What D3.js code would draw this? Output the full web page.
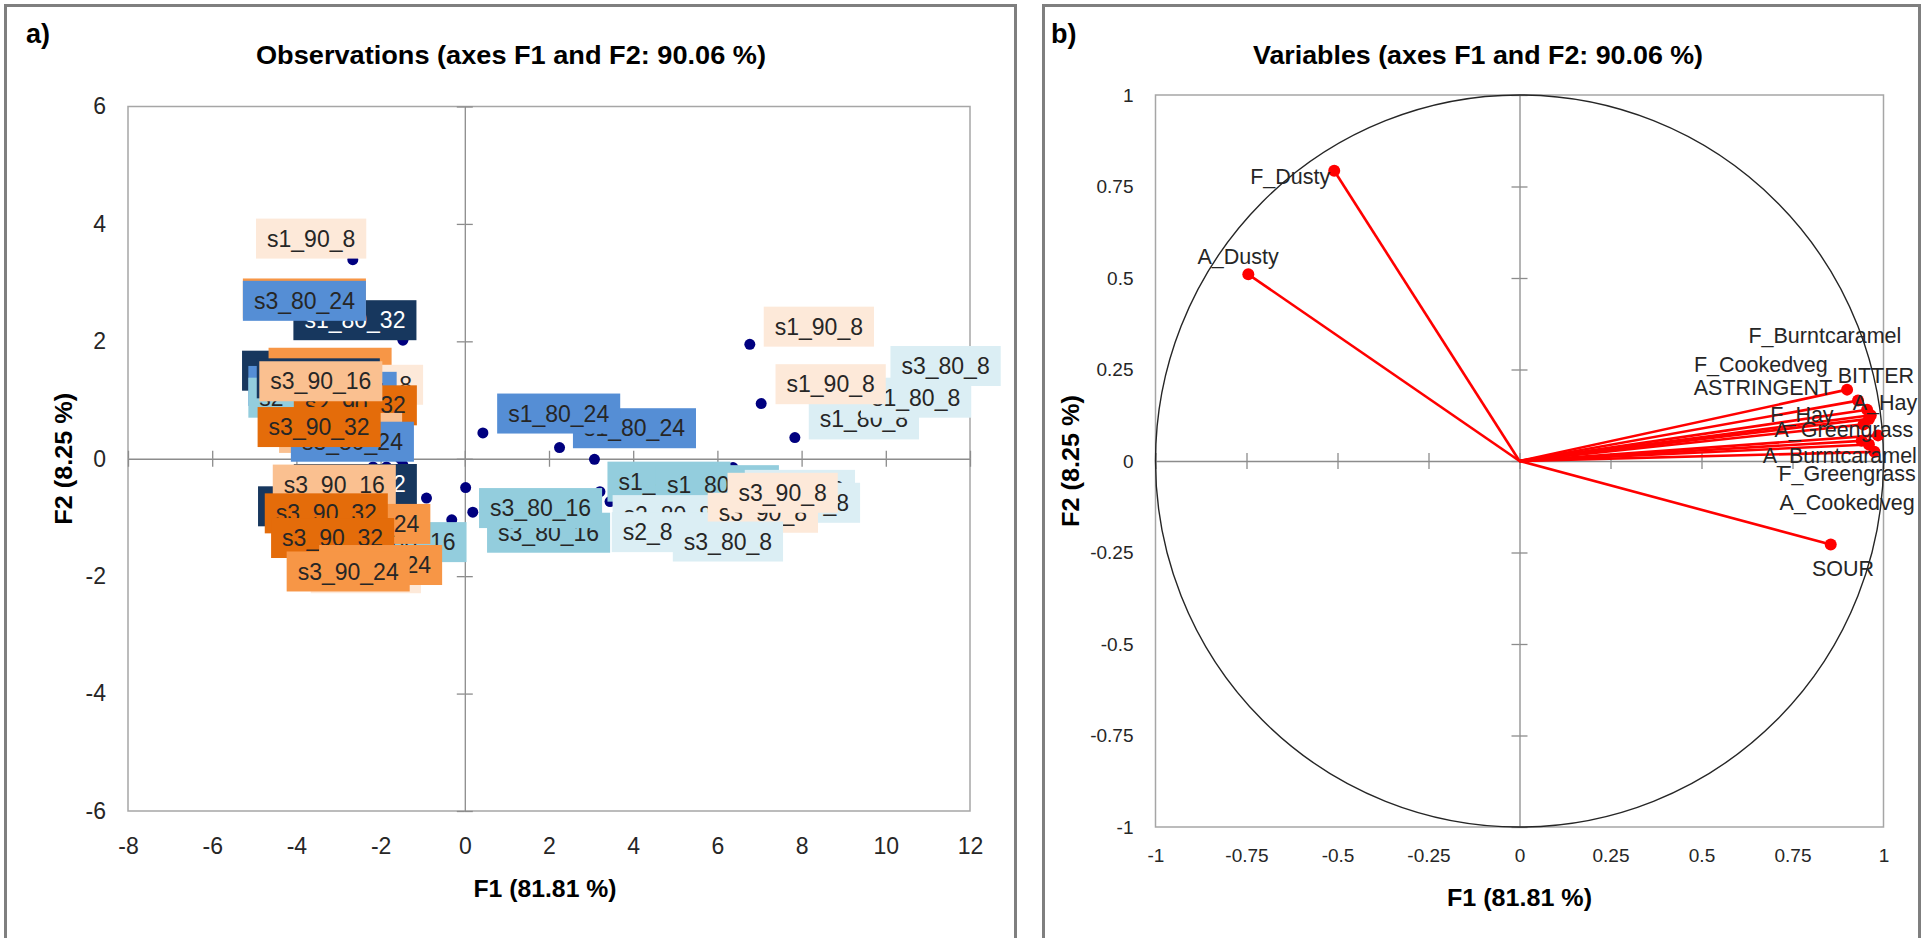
<!DOCTYPE html>
<html>
<head>
<meta charset="utf-8">
<script src="https://cdn.jsdelivr.net/npm/d3@7"></script>
<style>
  body { margin: 0; background: #fff; }
  svg text { font-family: "Liberation Sans", Arial, sans-serif; }
</style>
</head>
<body>
<div id="pca"></div>
<script>
// ---- a) observations, in drawing order (later labels sit on top) ----
const obsNames = [
  "s1_80_32", "s3_90_24", "s3_80_24", "s1_90_8",
  "s1_80_32", "s3_90_24", "s2_90_8", "s2_80_24", "s2_80_24", "s2_80_16", "s2_90_32",
  "s2_80_32", "s3_90_16", "s2_90_16", "s3_80_24", "s3_90_32",
  "s2_80_32", "s1_80_32", "s3_90_16", "s3_80_16", "s3_90_24", "s3_90_32", "s3_90_32",
  "s2_90_8", "s2_90_24", "s3_90_24",
  "s1_80_24", "s1_80_24", "s1_80_16", "s1_80_16", "s2_80_8", "s2_80_8", "s3_80_16", "s3_80_16",
  "s3_80_8", "s3_80_8", "s3_90_8", "s3_80_8", "s3_90_8",
  "s1_80_8", "s1_80_8", "s3_80_8", "s1_90_8", "s1_90_8"
]
const obsGroups = [
  "80_32", "90_24", "80_24", "90_8",
  "80_32", "90_24", "90_8", "80_24", "80_24", "80_16", "90_32",
  "80_32", "90_16", "90_16", "80_24", "90_32",
  "80_32", "80_32", "90_16", "80_16", "90_24", "90_32", "90_32",
  "90_8", "90_24", "90_24",
  "80_24", "80_24", "80_16", "80_16", "80_8", "80_8", "80_16", "80_16",
  "80_8", "80_8", "90_8", "80_8", "90_8",
  "80_8", "80_8", "80_8", "90_8", "90_8"
]
// point coordinates (F1, F2)
const obsF1 = [
  -1.47, -3.81, -3.81, -2.66,
  -3.83, -3.20, -2.30, -3.68, -3.08, -3.68, -2.60,
  -3.48, -3.42, -2.18, -1.47, -1.54,
  -3.45, -1.86, -3.10, -0.31, -0.91, -3.29, -3.14,
  -2.35, -1.49, -2.77,
  2.25, 0.43, 3.08, 6.37, 3.21, 3.45, 0.19, 0.02,
  7.96, 8.08, 7.08, 6.25, 7.55,
  7.84, 10.72, 11.42, 7.04, 6.77
]
const obsF2 = [
  2.02, 2.73, 2.69, 3.39,
  1.50, 1.55, 1.26, 1.24, 1.14, 1.04, 0.91,
  1.37, 1.32, -0.14, -0.11, 0.01,
  -0.81, -0.14, -0.44, -1.04, -0.67, -0.93, -1.35,
  -1.95, -1.81, -1.92,
  0.19, 0.44, -0.01, -0.15, -0.56, -0.73, -0.91, -0.49,
  -0.53, -0.75, -0.92, -1.41, -0.58,
  0.36, 1.04, 1.58, 0.94, 1.95
]
// label centres (F1, F2)
const obsLabelF1 = [
  -2.61, -3.81, -3.81, -3.65,
  -3.83, -3.20, -2.30, -3.68, -3.08, -3.68, -2.60,
  -3.48, -3.42, -2.95, -2.67, -3.46,
  -3.45, -2.60, -3.10, -1.42, -2.28, -3.29, -3.14,
  -2.35, -2.00, -2.77,
  4.03, 2.23, 4.85, 6.00, 4.82, 4.80, 1.99, 1.80,
  7.96, 8.08, 7.08, 6.25, 7.55,
  9.48, 10.72, 11.42, 8.69, 8.41
]
const obsLabelF2 = [
  2.36, 2.73, 2.69, 3.75,
  1.50, 1.55, 1.26, 1.24, 1.14, 1.04, 0.91,
  1.37, 1.32, 0.44, 0.29, 0.54,
  -0.81, -0.43, -0.44, -1.42, -1.11, -0.93, -1.35,
  -1.95, -1.81, -1.92,
  0.52, 0.77, -0.39, -0.45, -0.96, -1.25, -1.26, -0.84,
  -0.53, -0.75, -0.92, -1.41, -0.58,
  0.67, 1.04, 1.58, 1.27, 2.25
]

const groupKeys  = ["80_8", "80_16", "80_24", "80_32", "90_8", "90_16", "90_24", "90_32"]
const groupFills = ["#DBEEF4", "#93CDDD", "#558ED5", "#17375E", "#FDE9D9", "#FAC090", "#F79646", "#E46C0A"]
const groupInk   = ["#262626", "#262626", "#262626", "#ffffff", "#262626", "#262626", "#262626", "#262626"]

const obsTicksX = [-8, -6, -4, -2, 0, 2, 4, 6, 8, 10, 12]
const obsTicksY = [-6, -4, -2, 0, 2, 4, 6]

// ---- b) variables (correlation circle) ----
const varNames = ["F_Dusty", "A_Dusty", "SOUR", "A_Cookedveg", "F_Greengrass", "A_Burntcaramel",
  "A_Greengrass", "F_Hay", "A_Hay", "ASTRINGENT", "BITTER", "F_Cookedveg", "F_Burntcaramel"]
const varF1 = [-0.509, -0.745, 0.855, 0.960, 0.940, 0.975, 0.985, 0.945, 0.965, 0.960, 0.955, 0.930, 0.900]
const varF2 = [0.793, 0.510, -0.228, 0.045, 0.055, 0.025, 0.070, 0.100, 0.125, 0.115, 0.140, 0.165, 0.195]
const varLabelF1 = [-0.630, -0.773, 0.889, 0.900, 0.900, 0.880, 0.891, 0.776, 1.004, 0.669, 0.979, 0.663, 0.839]
const varLabelF2 = [0.777, 0.560, -0.295, -0.112, -0.033, 0.016, 0.085, 0.126, 0.161, 0.202, 0.235, 0.265, 0.342]

const varTicks = [-1, -0.75, -0.5, -0.25, 0, 0.25, 0.5, 0.75, 1]

const svg = d3.select("#pca").append("svg")
    .attr("width", 1923)
    .attr("height", 938)

svg.append("rect").attr("width", 1923).attr("height", 938).attr("fill", "#fff")

// panel frames
svg.append("rect")
    .attr("x", 5.5).attr("y", 5.5).attr("width", 1010).attr("height", 1000)
    .attr("fill", "none").attr("stroke", "#7f7f7f").attr("stroke-width", 3)
svg.append("rect")
    .attr("x", 1043.5).attr("y", 5.5).attr("width", 876).attr("height", 1000)
    .attr("fill", "none").attr("stroke", "#7f7f7f").attr("stroke-width", 3)

// draws the two axis lines through the origin, with cross ticks
function crossAxes(g, x, y, ticksX, ticksY) {
    const blank = () => ""
    const hx = g.append("g").attr("transform", `translate(0,${y(0)})`)
    hx.append("g").call(d3.axisBottom(x).tickValues(ticksX).tickSize(8).tickSizeOuter(0).tickFormat(blank))
    hx.append("g").call(d3.axisTop(x).tickValues(ticksX).tickSize(8).tickSizeOuter(0).tickFormat(blank))
        .select(".domain").remove()
    const vy = g.append("g").attr("transform", `translate(${x(0)},0)`)
    vy.append("g").call(d3.axisLeft(y).tickValues(ticksY).tickSize(8).tickSizeOuter(0).tickFormat(blank))
    vy.append("g").call(d3.axisRight(y).tickValues(ticksY).tickSize(8).tickSizeOuter(0).tickFormat(blank))
        .select(".domain").remove()
    g.selectAll(".domain, .tick line").attr("stroke", "#8c8c8c").attr("stroke-width", 1.3)
}

function frame(g, x, y) {
    const [x0, x1] = x.range(), [y0, y1] = y.range()
    g.append("rect")
        .attr("x", x0).attr("y", y1)
        .attr("width", x1 - x0).attr("height", y0 - y1)
        .attr("fill", "none").attr("stroke", "#a6a6a6").attr("stroke-width", 1.5)
}

function tickLabels(g, x, y, ticksX, ticksY, size, padX, padY) {
    const fmt = d => String(d)
    g.append("g").attr("transform", `translate(0,${y.range()[0]})`)
        .call(d3.axisBottom(x).tickValues(ticksX).tickSize(0).tickPadding(padX).tickFormat(fmt))
    g.append("g").attr("transform", `translate(${x.range()[0]},0)`)
        .call(d3.axisLeft(y).tickValues(ticksY).tickSize(0).tickPadding(padY).tickFormat(fmt))
    g.selectAll(".domain").remove()
    g.selectAll(".tick text").attr("font-size", size).attr("fill", "#262626")
        .attr("font-family", "Liberation Sans, Arial, sans-serif")
}

function titles(g, cx, labelX, tag, title, titleLen, plotCx, plotCy, f1Y, f1Len, f2X, f2Len) {
    g.append("text").attr("x", labelX).attr("y", 43).text(tag)
        .attr("font-size", 27).attr("font-weight", "bold").attr("fill", "#000")
    g.append("text").attr("x", cx).attr("y", 64).text(title)
        .attr("text-anchor", "middle").attr("font-size", 25).attr("font-weight", "bold")
        .attr("textLength", titleLen).attr("lengthAdjust", "spacingAndGlyphs")
    g.append("text").attr("x", plotCx).attr("y", f1Y).text("F1 (81.81 %)")
        .attr("text-anchor", "middle").attr("font-size", 24).attr("font-weight", "bold")
        .attr("textLength", f1Len).attr("lengthAdjust", "spacingAndGlyphs")
    g.append("text").attr("transform", `translate(${f2X},${plotCy}) rotate(-90)`)
        .attr("dy", "0.35em").text("F2 (8.25 %)")
        .attr("text-anchor", "middle").attr("font-size", 24).attr("font-weight", "bold")
        .attr("textLength", f2Len).attr("lengthAdjust", "spacingAndGlyphs")
}

// ---------- panel a ----------
function drawObservations() {
    const x = d3.scaleLinear().domain([-8, 12]).range([128, 970])
    const y = d3.scaleLinear().domain([-6, 6]).range([811, 106.5])
    const g = svg.append("g")

    frame(g, x, y)
    crossAxes(g, x, y, obsTicksX, obsTicksY)
    tickLabels(g.append("g"), x, y, obsTicksX, obsTicksY, 23, 27, 22)

    const idx = d3.range(obsNames.length)
    const fill = d3.scaleOrdinal().domain(groupKeys).range(groupFills)
    const ink = d3.scaleOrdinal().domain(groupKeys).range(groupInk)

    g.append("g").selectAll("circle")
        .data(idx).join("circle")
        .attr("cx", i => x(obsF1[i]))
        .attr("cy", i => y(obsF2[i]))
        .attr("r", 5.5)
        .attr("fill", "#00007f")

    const labels = g.append("g").selectAll("g")
        .data(idx).join("g")
        .attr("transform", i => `translate(${x(obsLabelF1[i])},${y(obsLabelF2[i])})`)
    labels.append("rect").attr("fill", i => fill(obsGroups[i]))
    labels.append("text")
        .attr("text-anchor", "middle").attr("dy", "0.35em")
        .attr("font-size", 23).attr("fill", i => ink(obsGroups[i]))
        .text(i => obsNames[i])
        .each(function () {
            const w = this.getComputedTextLength() + 22
            d3.select(this.parentNode).select("rect")
                .attr("x", -w / 2).attr("y", -20).attr("width", w).attr("height", 40)
        })

    titles(g, 511, 26, "a)", "Observations (axes F1 and F2: 90.06 %)", 510,
        (x.range()[0] + x.range()[1]) / 2 - 4, y(0), 897, 143, 64, 132)
}

// ---------- panel b ----------
function drawVariables() {
    const x = d3.scaleLinear().domain([-1, 1]).range([1155.5, 1883.5])
    const y = d3.scaleLinear().domain([-1, 1]).range([827, 95])
    const g = svg.append("g")

    frame(g, x, y)
    crossAxes(g, x, y, varTicks, varTicks)
    tickLabels(g.append("g"), x, y, varTicks, varTicks, 19, 22, 22)

    g.append("ellipse")
        .attr("cx", x(0)).attr("cy", y(0))
        .attr("rx", x(1) - x(0)).attr("ry", y(0) - y(1))
        .attr("fill", "none").attr("stroke", "#262626").attr("stroke-width", 1.4)

    const idx = d3.range(varNames.length)
    g.append("g").selectAll("line")
        .data(idx).join("line")
        .attr("x1", x(0)).attr("y1", y(0))
        .attr("x2", i => x(varF1[i])).attr("y2", i => y(varF2[i]))
        .attr("stroke", "#ff0000").attr("stroke-width", 2.6)
    g.append("g").selectAll("circle")
        .data(idx).join("circle")
        .attr("cx", i => x(varF1[i])).attr("cy", i => y(varF2[i]))
        .attr("r", 6).attr("fill", "#ff0000")
    g.append("g").selectAll("text")
        .data(idx).join("text")
        .attr("x", i => x(varLabelF1[i])).attr("y", i => y(varLabelF2[i]))
        .attr("text-anchor", "middle").attr("dy", "0.35em")
        .attr("font-size", 21.5).attr("fill", "#262626")
        .text(i => varNames[i])

    titles(g, 1478, 1051, "b)", "Variables (axes F1 and F2: 90.06 %)", 450,
        (x.range()[0] + x.range()[1]) / 2, y(0), 906, 145, 1071, 132)
}

drawObservations()
drawVariables()
</script>
</body>
</html>
